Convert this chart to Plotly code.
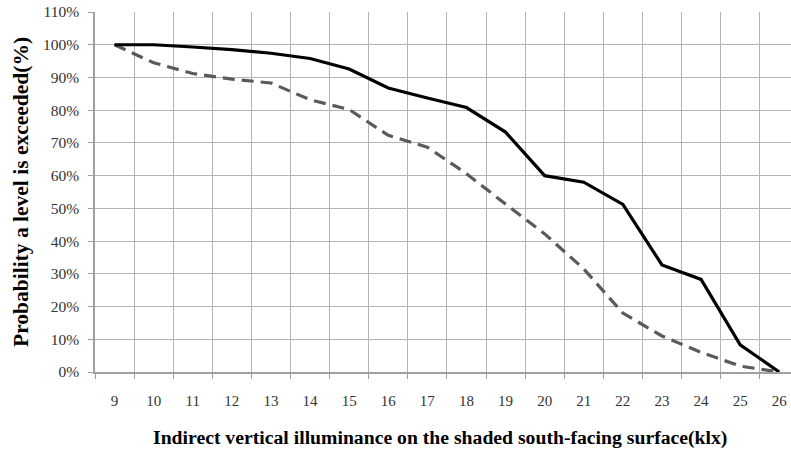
import plotly.graph_objects as go

categories = [str(v) for v in range(9, 27)]
solid_values = [100, 100, 99.3, 98.5, 97.4, 95.8, 92.6, 86.8, 83.7, 80.8, 73.3, 60.0, 58.0, 51.2, 32.7, 28.3, 8.3, 0]
dashed_values = [100, 94.5, 91.2, 89.5, 88.3, 83.2, 80.2, 72.3, 68.7, 60.6, 51.3, 42.2, 31.5, 18.0, 11.0, 6.0, 1.8, 0]
y_ticks = list(range(0, 111, 10))
x_title = "Indirect vertical illuminance on the shaded south-facing surface(klx)"
y_title = "Probability a level is exceeded(%)"

serif = "Liberation Serif, Times New Roman, serif"

fig = go.Figure()
fig.add_trace(go.Scatter(x=categories, y=dashed_values, mode="lines",
                         line=dict(color="#5a5a5a", width=3.2, dash="12px,7px"),
                         showlegend=False))
fig.add_trace(go.Scatter(x=categories, y=solid_values, mode="lines",
                         line=dict(color="#000000", width=3.2),
                         showlegend=False))

fig.update_layout(
    width=791, height=453,
    margin=dict(l=95, r=0, t=12, b=81, autoexpand=False),
    paper_bgcolor="white", plot_bgcolor="white",
    font=dict(family=serif, size=14, color="#333333"),
    annotations=[
        dict(text=f"<b>{x_title}</b>", xref="paper", yref="paper",
             x=(440 - 95) / 696, y=(372 - 437) / 360, xanchor="center", yanchor="middle",
             showarrow=False, font=dict(family=serif, size=19.7, color="#000000")),
        dict(text=f"<b>{y_title}</b>", xref="paper", yref="paper",
             x=(21 - 95) / 696, y=(372 - 192) / 360, xanchor="center", yanchor="middle",
             textangle=-90, showarrow=False,
             font=dict(family=serif, size=21.5, color="#000000")),
    ],
)
fig.update_xaxes(
    type="category", range=[-0.5, 17.3], tickson="boundaries",
    automargin=False,
    showgrid=True, gridcolor="#b3b3b3", gridwidth=1.3,
    showline=True, linecolor="#a0a0a0", linewidth=1.5,
    ticks="outside", ticklen=5, tickcolor="#a0a0a0", tickwidth=1.3,
    ticklabelstandoff=14,
    tickfont=dict(family=serif, size=15, color="#333333"),
    zeroline=False,
)
fig.update_yaxes(
    range=[0, 110], tickvals=y_ticks, ticktext=[f"{v}%" for v in y_ticks],
    automargin=False,
    showgrid=True, gridcolor="#b3b3b3", gridwidth=1.3,
    showline=True, linecolor="#a0a0a0", linewidth=1.5,
    ticks="outside", ticklen=5, tickcolor="#a0a0a0", tickwidth=1.3,
    ticklabelstandoff=6,
    tickfont=dict(family=serif, size=15.5, color="#333333"),
    zeroline=False,
)

fig.write_html("out.html",
               config={"displayModeBar": False},
               post_script="document.body.style.margin='0';document.body.style.overflow='hidden';")
